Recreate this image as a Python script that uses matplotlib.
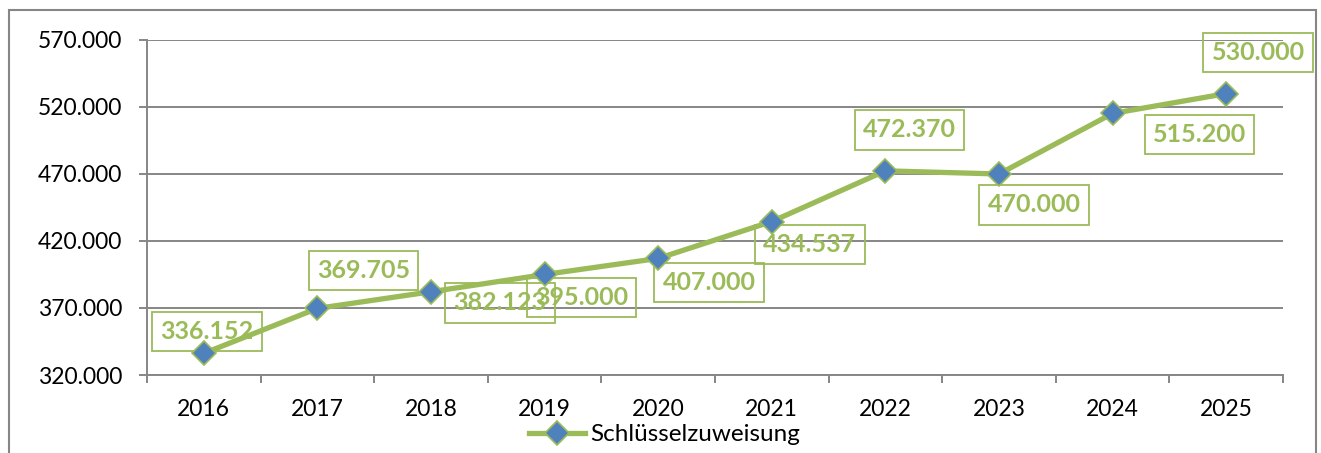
import matplotlib
matplotlib.use("Agg")
import matplotlib.pyplot as plt
from matplotlib.patches import Rectangle
from matplotlib.ticker import FuncFormatter
import numpy as np

years = ["2016", "2017", "2018", "2019", "2020", "2021", "2022", "2023", "2024", "2025"]
schluessel = [336152, 369705, 382123, 395000, 407000, 434537, 472370, 470000, 515200, 530000]
series_name = "Schlüsselzuweisung"

# label box offsets from the point, in pixels (dx right, dy down)
label_off = [(3, -22), (46, -38), (69, 11), (37, 23), (51, 24),
             (38, 23), (24, -41), (35, 31), (87, 21), (32, -41)]

GREEN = "#9BBB59"
BLUE = "#4F81BD"
GRID = "#868686"

plt.rcParams['font.family'] = ['Lato', 'DejaVu Sans']


def de_fmt(v, pos=None):
    return f"{v:,.0f}".replace(",", ".")


fig = plt.figure(figsize=(13.21, 4.53), dpi=100)
fig.patches.append(Rectangle((9 / 1321, -0.1), (1316 - 9) / 1321, 1.1 - 10 / 453,
                             transform=fig.transFigure, fill=False,
                             edgecolor=GRID, linewidth=1.5))
ax = fig.add_axes([147 / 1321, 1 - 375 / 453, (1283 - 147) / 1321, (375 - 40) / 453])

x = np.arange(len(years))
ax.plot(x, schluessel, color=GREEN, linewidth=3.8, marker="D", markersize=12,
        markerfacecolor=BLUE, markeredgecolor=GREEN, markeredgewidth=1.2,
        label=series_name, zorder=4, clip_on=False)

for xi, v, (dx, dy) in zip(x, schluessel, label_off):
    ax.annotate(de_fmt(v), (xi, v), xytext=(dx * 0.72, -dy * 0.72),
                textcoords="offset points", ha="center", va="center",
                fontsize=18, fontweight="bold", color=GREEN, zorder=3,
                bbox=dict(boxstyle="square,pad=0.33", facecolor="none",
                          edgecolor=GREEN, linewidth=1.3))

ax.set_xlim(-0.5, len(years) - 0.5)
ax.set_ylim(320000, 570000)
ax.set_yticks(np.arange(320000, 570001, 50000))
ax.yaxis.set_major_formatter(FuncFormatter(de_fmt))
ax.set_xticks(x)
ax.set_xticklabels(years)
ax.set_xticks(np.arange(-0.5, len(years), 1), minor=True)

ax.grid(axis="y", color=GRID, linewidth=1.4, zorder=0)
ax.set_axisbelow(True)
for s in ["top", "right"]:
    ax.spines[s].set_visible(False)
for s in ["left", "bottom"]:
    ax.spines[s].set_color(GRID)
    ax.spines[s].set_linewidth(1.4)

ax.tick_params(axis="y", length=6, width=1.4, color=GRID, pad=12, labelsize=16.5)
ax.tick_params(axis="x", which="major", length=0, pad=17, labelsize=16.5)
ax.tick_params(axis="x", which="minor", length=6, width=1.4, color=GRID)

fig.legend(loc="center", bbox_to_anchor=(0.503, 0.04), frameon=False,
           fontsize=17.5, handlelength=2.3, handletextpad=0.2)

fig.savefig("out.png", dpi=100)
